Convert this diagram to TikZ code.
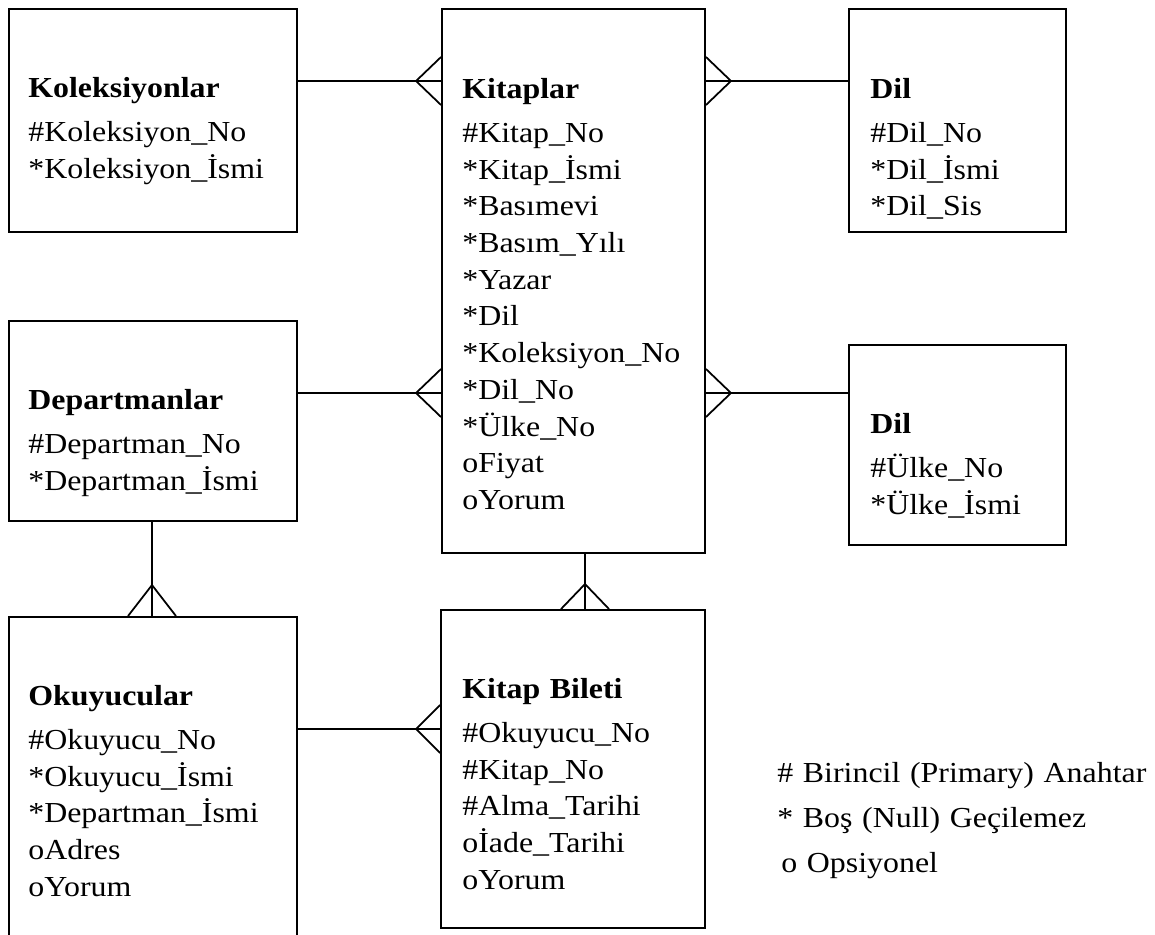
\documentclass[tikz,border=0pt]{standalone}
\usepackage{fontspec}
\setmainfont{Liberation Serif}[FakeStretch=1.10]
\usetikzlibrary{calc,fit}

\begin{document}
\begin{tikzpicture}[x=0.02cm, y=-0.02cm,
  every node/.style={font=\fontsize{16.5pt}{20.9pt}\selectfont},
  ent/.style={draw, rectangle, inner sep=0pt, line width=1.1pt},
  attr/.style={anchor=base west, inner sep=0pt, text width=9cm, align=left},
  rel/.style={line width=1pt}]

  \useasboundingbox (0,0) rectangle (1155,934);

  % ---- varliklar (kutular) ----
  \node[ent, fit={(9,9) (297,232)}] (kol) {};
  \node[ent, fit={(442,9) (705,553)}] (kit) {};
  \node[ent, fit={(849,9) (1066,232)}] (dil) {};
  \node[ent, fit={(9,321) (297,521)}] (dep) {};
  \node[ent, fit={(849,345) (1066,545)}] (ulk) {};
  \node[ent, fit={(9,617) (297,950)}] (oku) {};
  \node[ent, fit={(441,610) (705,928)}] (bil) {};

  % ---- alan listeleri ----
  \node[attr] (kolT) at (28,97) {\textbf{Koleksiyonlar}\\[4.3pt]
    \#Koleksiyon\_No\\{*}Koleksiyon\_İsmi};
  \node[attr] (kitT) at (462,98) {\textbf{Kitaplar}\\[4.3pt]
    \#Kitap\_No\\{*}Kitap\_İsmi\\{*}Basımevi\\{*}Basım\_Yılı\\{*}Yazar\\{*}Dil\\
    {*}Koleksiyon\_No\\{*}Dil\_No\\{*}Ülke\_No\\oFiyat\\oYorum};
  \node[attr] (dilT) at (870,98) {\textbf{Dil}\\[4.3pt]
    \#Dil\_No\\{*}Dil\_İsmi\\{*}Dil\_Sis};
  \node[attr] (depT) at (28,409) {\textbf{Departmanlar}\\[4.3pt]
    \#Departman\_No\\{*}Departman\_İsmi};
  \node[attr] (ulkT) at (870,433) {\textbf{Dil}\\[4.3pt]
    \#Ülke\_No\\{*}Ülke\_İsmi};
  \node[attr] (okuT) at (28,705) {\textbf{Okuyucular}\\[4.3pt]
    \#Okuyucu\_No\\{*}Okuyucu\_İsmi\\{*}Departman\_İsmi\\oAdres\\oYorum};
  \node[attr] (bilT) at (462,698) {\textbf{Kitap Bileti}\\[4.3pt]
    \#Okuyucu\_No\\\#Kitap\_No\\\#Alma\_Tarihi\\oİade\_Tarihi\\oYorum};

  % ---- iliski yukseklikleri ----
  \coordinate (r1) at (0,81);
  \coordinate (r2) at (0,393);
  \coordinate (r3) at (0,729);
  \coordinate (c1) at (152,0);
  \coordinate (c2) at (585,0);

  % ---- iliskiler (kaz ayagi) ----
  \draw[rel] (kol.east |- r1) -- (kit.west |- r1);
  \draw[rel] ($(kit.west |- r1)+(-25,0)$) -- ++(25,-24)
             ($(kit.west |- r1)+(-25,0)$) -- ++(25,24);

  \draw[rel] (kit.east |- r1) -- (dil.west |- r1);
  \draw[rel] ($(kit.east |- r1)+(25,0)$) -- ++(-25,-24)
             ($(kit.east |- r1)+(25,0)$) -- ++(-25,24);

  \draw[rel] (dep.east |- r2) -- (kit.west |- r2);
  \draw[rel] ($(kit.west |- r2)+(-25,0)$) -- ++(25,-24)
             ($(kit.west |- r2)+(-25,0)$) -- ++(25,24);

  \draw[rel] (kit.east |- r2) -- (ulk.west |- r2);
  \draw[rel] ($(kit.east |- r2)+(25,0)$) -- ++(-25,-24)
             ($(kit.east |- r2)+(25,0)$) -- ++(-25,24);

  \draw[rel] (dep.south -| c1) -- (oku.north -| c1);
  \draw[rel] ($(oku.north -| c1)+(0,-31)$) -- ++(-24,31)
             ($(oku.north -| c1)+(0,-31)$) -- ++(24,31);

  \draw[rel] (kit.south -| c2) -- (bil.north -| c2);
  \draw[rel] ($(bil.north -| c2)+(0,-25)$) -- ++(-24,25)
             ($(bil.north -| c2)+(0,-25)$) -- ++(24,25);

  \draw[rel] (oku.east |- r3) -- (bil.west |- r3);
  \draw[rel] ($(bil.west |- r3)+(-24,0)$) -- ++(24,-24)
             ($(bil.west |- r3)+(-24,0)$) -- ++(24,24);

  % ---- aciklama ----
  \node[attr] (lg1) at (777,782) {\# Birincil (Primary) Anahtar};
  \node[attr] (lg2) at (777,827) {* Boş (Null) Geçilemez};
  \node[attr] (lg3) at (781,872) {o Opsiyonel};

\end{tikzpicture}
\end{document}
